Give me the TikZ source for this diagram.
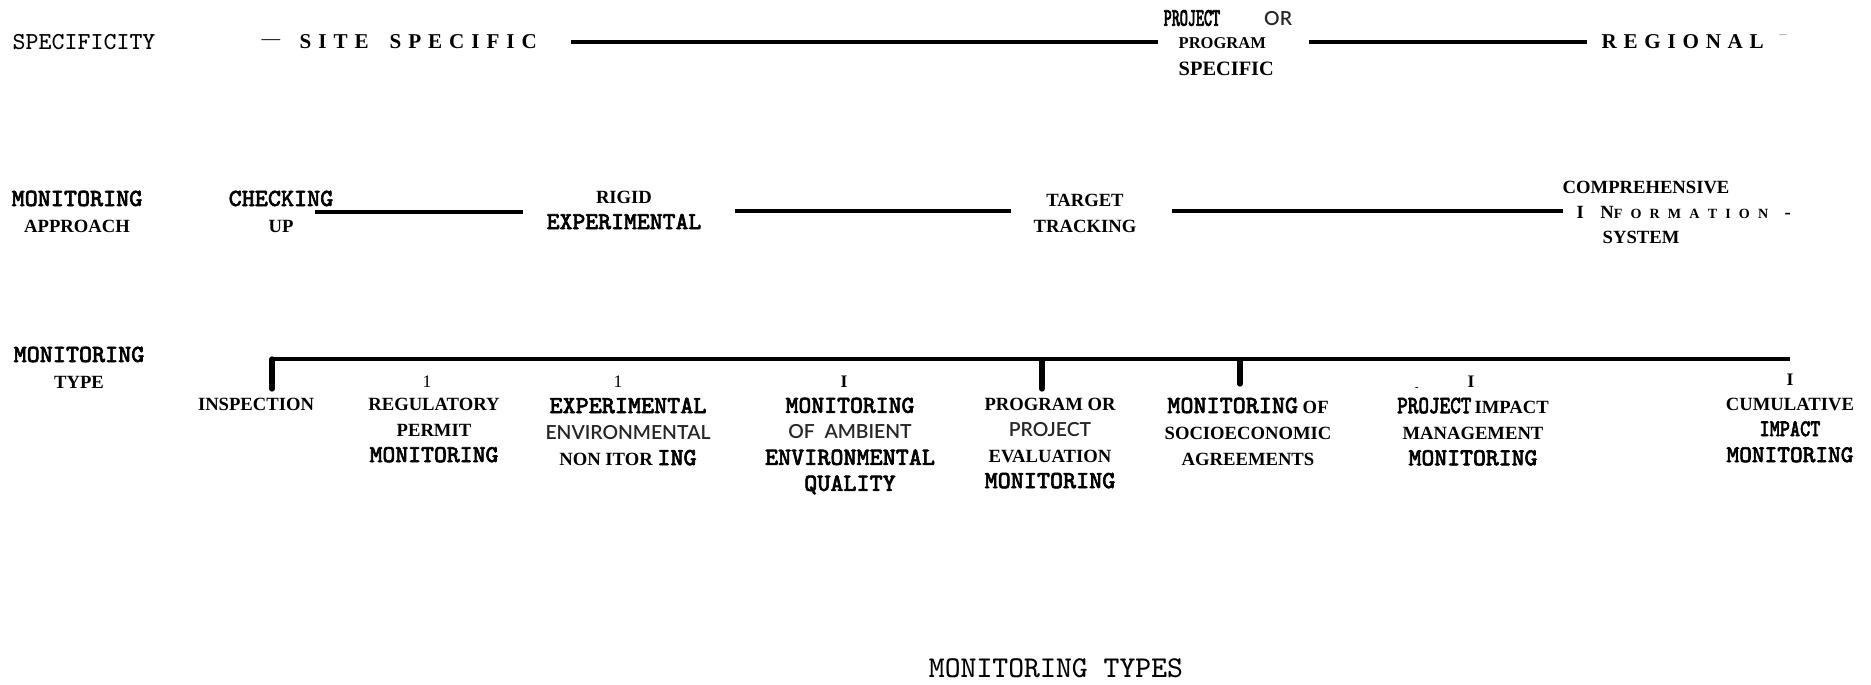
\documentclass[tikz,border=0pt]{standalone}
\usepackage{fontspec}
\setmainfont{Liberation Serif}
\newfontfamily\sansfam{Lato Light}
\newfontfamily\tybfont[FakeBold=2.5]{Latin Modern Mono}
\newfontfamily\tybcond[FakeBold=2.5,FakeStretch=0.8]{Latin Modern Mono}
\newfontfamily\tybnarrow[FakeBold=2.5,FakeStretch=0.6]{Latin Modern Mono}
% heavy typewriter, condensed heavy typewriter, light sans
\newcommand\tyb[2][7]{{\tybfont\fontsize{#1}{7.4}\selectfont #2}}
\newcommand\tyc[2][7.1]{{\tybcond\fontsize{#1}{7.4}\selectfont #2}}
\newcommand\lsans[1]{{\sansfam\color{black!85}\fontsize{5.5}{7.4}\selectfont #1}}
\begin{document}
\begin{tikzpicture}[x=0.01cm,y=-0.01cm,
  lbl/.style={inner sep=0pt, align=center, anchor=north, font=\bfseries\fontsize{5.3}{7.4}\selectfont},
  word/.style={inner sep=0pt, font=\bfseries\fontsize{5.3}{7.4}\selectfont},
  spaced/.style={inner sep=0pt, anchor=west, font=\bfseries\fontsize{6}{7.4}\selectfont},
  typed/.style={inner sep=0pt, font=\ttfamily\fontsize{6.95}{8}\selectfont},
  bar/.style={line width=1.2pt},
  axis/.style={line width=1.4pt},
  tickbar/.style={line width=1.5pt, line cap=round},
  digit/.style={inner sep=0pt, font=\fontsize{5}{6}\selectfont}]
\useasboundingbox (0,0) rectangle (1871,684);

% ---- specificity scale
\node[typed, anchor=west] (spec) at (12,42) {SPECIFICITY};
\node[inner sep=0pt, anchor=west, font=\fontsize{5.3}{7.4}\selectfont] (dashl) at (261,42) {\textemdash};
\node[spaced] (site) at (299,42) {\makebox[2.37cm][s]{S\hfill I\hfill T\hfill E\hfill\hfill\hfill S\hfill P\hfill E\hfill C\hfill I\hfill F\hfill I\hfill C}};
\coordinate (s1a) at (571,42);
\coordinate (s1b) at (1158,42);
\draw[bar] (s1a) -- (s1b);
\node[word, anchor=west] (projor) at (1163,18) {{\tybnarrow\fontsize{7.2}{7.4}\selectfont PROJECT}\hspace{0.44cm}\lsans{OR}};
\node[word, anchor=west, font=\bfseries\fontsize{4.7}{7.4}\selectfont] (progr) at (1178,43) {PROGRAM};
\node[word, anchor=west, font=\bfseries\fontsize{5.8}{7.4}\selectfont] (specif) at (1178,69) {SPECIFIC};
\coordinate (s2a) at (1309,42);
\coordinate (s2b) at (1587,42);
\draw[bar] (s2a) -- (s2b);
\node[spaced] (regional) at (1601,42) {\makebox[1.62cm][s]{R\hfill E\hfill G\hfill I\hfill O\hfill N\hfill A\hfill L}};
\node[inner sep=0pt, text=black!45, font=\fontsize{4}{5}\selectfont] (tail) at (1783,37) {\textendash};

% ---- monitoring approach scale
\node[lbl] (mapp) at (77,190) {\tyb{MONITORING}\\APPROACH};
\node[lbl] (check) at (281,190) {\tyb{CHECKING}\\UP};
\node[lbl] (rigid) at (624,190) {RIGID\\\tyb[6.9]{EXPERIMENTAL}};
\node[lbl] (target) at (1085,193) {TARGET\\TRACKING};
\node[word, anchor=west] (compa) at (1562,187) {COMPREHENSIVE};
\node[word, anchor=west] (compb) at (1576,212) {\makebox[2.14cm][s]{I\hfill\hfill N{\fontsize{4}{5}\selectfont F\hfill O\hfill R\hfill M\hfill A\hfill T\hfill I\hfill O\hfill N}\hfill\hfill -}};
\node[word, anchor=west] (compc) at (1602,237) {SYSTEM};
\coordinate (a1a) at (315,212);
\coordinate (a1b) at (523,212);
\coordinate (a2a) at (735,211);
\coordinate (a2b) at (1011,211);
\coordinate (a3a) at (1172,211);
\coordinate (a3b) at (1563,211);
\draw[bar] (a1a) -- (a1b);
\draw[bar] (a2a) -- (a2b);
\draw[bar] (a3a) -- (a3b);

% ---- monitoring type scale
\node[lbl] (mtype) at (79,346) {\tyb{MONITORING}\\TYPE};
\coordinate (t0) at (272,359);
\coordinate (t1) at (1790,359);
\coordinate (k1) at (1042,360);
\coordinate (k2) at (1240,360);
\draw[axis] (t0) -- (t1);
\draw[tickbar] (t0) -- ++(0,30);
\draw[tickbar] (k1) -- ++(0,29);
\draw[tickbar] (k2) -- ++(0,24);
\node[digit] (n1) at (427,382) {1};
\node[digit] (n2) at (618,382) {1};
\node[digit, font=\bfseries\fontsize{5}{6}\selectfont] (n3) at (844,382) {I};
\node[digit, font=\bfseries\fontsize{3}{4}\selectfont] (n4) at (1417,389) {-};
\node[digit, font=\bfseries\fontsize{5}{6}\selectfont] (n5) at (1471,382) {I};
\node[digit, font=\bfseries\fontsize{5}{6}\selectfont] (n6) at (1790,380) {I};

\node[lbl] (insp) at (256,397) {INSPECTION};
\node[lbl] (regu) at (434,397) {REGULATORY\\PERMIT\\\tyb[6.9]{MONITORING}};
\node[lbl] (expe) at (628,397) {\tyb{EXPERIMENTAL}\\\lsans{ENVIRONMENTAL}\\NON ITOR \tyb{ING}};
\node[lbl] (ambi) at (850,397) {\tyb[6.9]{MONITORING}\\\lsans{OF\ \ AMBIENT}\\\tyb{ENVIRONMENTAL}\\\tyb{QUALITY}};
\node[lbl] (prog) at (1050,397) {PROGRAM OR\\\lsans{PROJECT}\\EVALUATION\\\tyb{MONITORING}};
\node[lbl] (soci) at (1248,397) {\tyb{MONITORING} OF\\SOCIOECONOMIC\\AGREEMENTS};
\node[lbl] (pimp) at (1473,397) {\tyc{PROJECT}\,IMPACT\\MANAGEMENT\\\tyb[6.9]{MONITORING}};
\node[lbl] (cumu) at (1790,397) {CUMULATIVE\\\tyc[6.8]{IMPACT}\\\tyb[6.8]{MONITORING}};

% ---- caption
\node[typed, font=\ttfamily\fontsize{8.6}{10}\selectfont] (title) at (1056,668) {MONITORING TYPES};
\end{tikzpicture}
\end{document}
